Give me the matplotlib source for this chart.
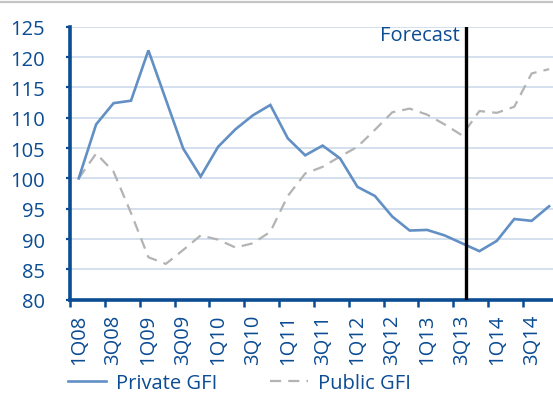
import matplotlib
matplotlib.use('Agg')
import matplotlib.pyplot as plt
from matplotlib.lines import Line2D

# quarters 1Q08 .. 4Q14
quarters = ['%dQ%02d' % (q, y) for y in range(8, 15) for q in range(1, 5)]

private_gfi = [100.0, 108.9, 112.4, 112.8, 121.1, 113.0, 104.9, 100.3,
               105.2, 108.1, 110.4, 112.1, 106.6, 103.8, 105.4, 103.3,
               98.6, 97.1, 93.7, 91.4, 91.5, 90.6, 89.3, 88.0,
               89.7, 93.3, 93.0, 95.4]
public_gfi = [100.0, 104.1, 101.1, 94.3, 87.0, 85.9, 88.2, 90.6,
              89.9, 88.6, 89.3, 91.2, 97.1, 100.8, 101.9, 103.6,
              105.2, 108.0, 110.9, 111.5, 110.5, 108.9, 107.1, 111.1,
              110.8, 111.8, 117.3, 118.0]
y_ticks = [80, 85, 90, 95, 100, 105, 110, 115, 120, 125]
forecast_at = 22.25   # just after 3Q13

BLUE = '#0b4c93'
LINE_BLUE = '#628fc4'
GRID = '#c8d7ea'
GREY = '#b3b3b3'
FS = 14.5

plt.rcParams['font.family'] = ['Open Sans', 'DejaVu Sans']

fig = plt.figure(figsize=(5.53, 4.02), dpi=100)
ax = fig.add_axes([70/553., 101.3/402., 487.8/553., 273/402.])

# thin grey rule on top of the chart
fig.add_artist(Line2D([0, 1], [1 - 3/402., 1 - 3/402.], color='#c4c4c4', lw=1.6,
                      transform=fig.transFigure))

x = list(range(len(quarters)))
for v in y_ticks[1:]:
  ax.axhline(v, color=GRID, lw=1.1, zorder=0)

ax.plot(x, private_gfi, color=LINE_BLUE, lw=1.9, label='Private GFI', zorder=3,
        solid_joinstyle='miter')
ax.plot(x, public_gfi, color=GREY, lw=1.6, dashes=(5, 3.2), label='Public GFI',
        zorder=2)
ax.axvline(forecast_at, color='black', lw=2.4, zorder=4)
ax.text(forecast_at - 0.35, 123.7, 'Forecast', color=BLUE, fontsize=FS,
        ha='right', va='center')

ax.set_xlim(-0.5, len(quarters) - 0.5)
ax.set_ylim(80, 125)
ax.set_yticks(y_ticks)
ax.tick_params(axis='y', colors=BLUE, labelsize=FS, length=3, width=1.6,
               pad=15)

# ticks between categories, labels under every second category
ax.set_xticks([i - 0.5 for i in range(0, len(quarters), 2)])
ax.set_xticklabels([])
ax.set_xticks(x[::2], minor=True)
ax.set_xticklabels(quarters[::2], minor=True, rotation=90)
ax.tick_params(axis='x', which='major', colors=BLUE, length=5, width=1.8)
ax.tick_params(axis='x', which='minor', colors=BLUE, length=0, labelsize=FS,
               pad=10)

for s in ['top', 'right']:
  ax.spines[s].set_visible(False)
for s in ['left', 'bottom']:
  ax.spines[s].set_color(BLUE)
  ax.spines[s].set_linewidth(2.6)

leg = fig.legend(loc='center left', bbox_to_anchor=(68/553., 1 - 384/402.),
                 ncol=2, frameon=False, fontsize=FS, handlelength=1.9,
                 handletextpad=0.5, columnspacing=2.6, borderpad=0,
                 borderaxespad=0)
for t in leg.get_texts():
  t.set_color(BLUE)

fig.savefig('out.png', dpi=100)
plt.close()
